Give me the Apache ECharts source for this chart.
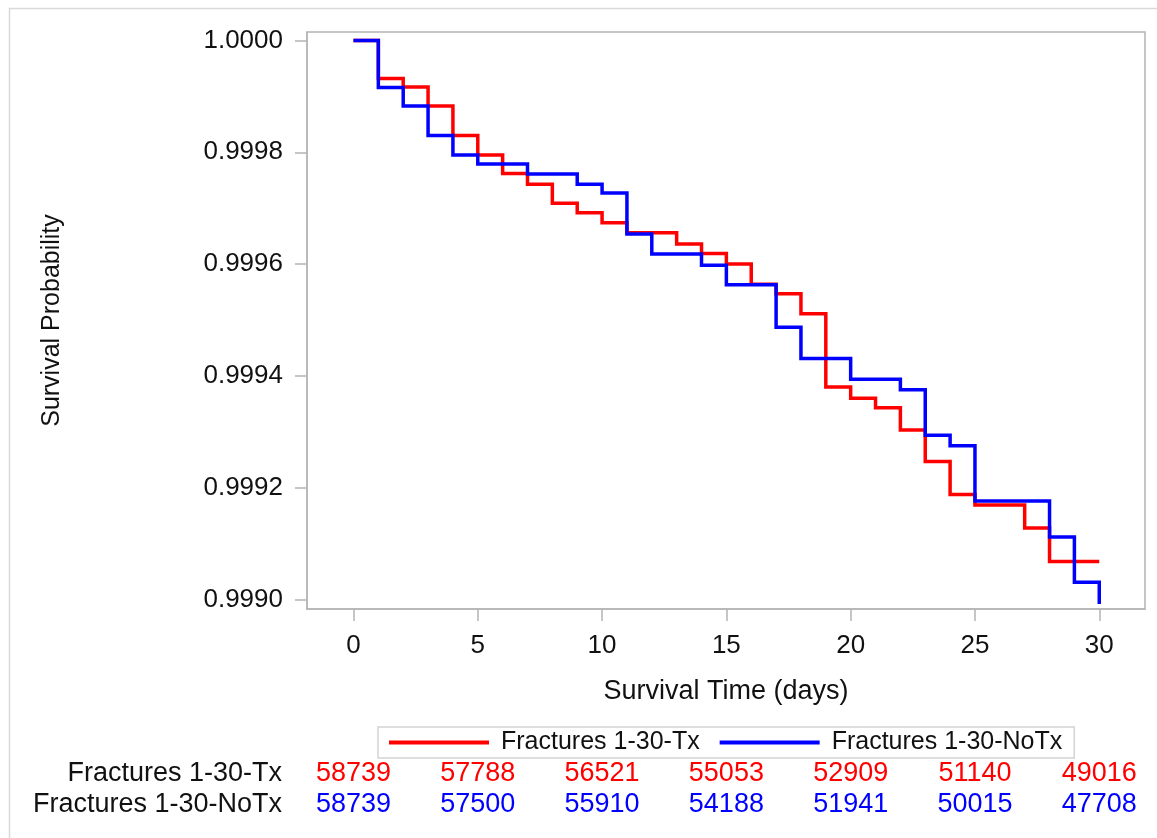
<!DOCTYPE html>
<html>
<head>
<meta charset="utf-8">
<script src="https://cdn.jsdelivr.net/npm/echarts@6/dist/echarts.min.js"></script>
<style>
  html, body { margin: 0; padding: 0; background: #fff; }
  #chart { width: 1157px; height: 838px; }
</style>
</head>
<body>
<div id="chart"></div>
<script>
// ---- data ----
const days = [0,1,2,3,4,5,6,7,8,9,10,11,12,13,14,15,16,17,18,19,20,21,22,23,24,25,26,27,28,29,30];
const txSurv = [1.0, 0.999932, 0.999917, 0.999883, 0.999830, 0.999795, 0.999762, 0.999743, 0.999709, 0.999692,
  0.999674, 0.999656, 0.999656, 0.999636, 0.999619, 0.999600, 0.999564, 0.999547, 0.999511, 0.999380,
  0.999360, 0.999343, 0.999303, 0.999247, 0.999188, 0.999169, 0.999169, 0.999128, 0.999068, 0.999068, 0.999068];
const noTxSurv = [1.0, 0.999916, 0.999883, 0.999830, 0.999795, 0.999779, 0.999779, 0.999761, 0.999761, 0.999743,
  0.999727, 0.999654, 0.999618, 0.999618, 0.999598, 0.999563, 0.999563, 0.999487, 0.999431, 0.999431,
  0.999394, 0.999394, 0.999375, 0.999294, 0.999275, 0.999176, 0.999176, 0.999176, 0.999112, 0.999031, 0.998992];
const xTicks = [0, 5, 10, 15, 20, 25, 30];
const yTicks = [0.9990, 0.9992, 0.9994, 0.9996, 0.9998, 1.0000];
const atRiskDays = [0, 5, 10, 15, 20, 25, 30];
const atRiskTx = [58739, 57788, 56521, 55053, 52909, 51140, 49016];
const atRiskNoTx = [58739, 57500, 55910, 54188, 51941, 50015, 47708];
const seriesNames = ['Fractures 1-30-Tx', 'Fractures 1-30-NoTx'];
const rowNames = ['Fractures 1-30-Tx', 'Fractures 1-30-NoTx'];

const FONT = "'Liberation Sans', Arial, sans-serif";
const RED = '#ff0000', BLUE = '#0000ff', FRAME = '#b4b4b4';

const chart = echarts.init(document.getElementById('chart'), null, { renderer: 'canvas' });
const option = {
  animation: false,
  backgroundColor: '#ffffff',
  textStyle: { fontFamily: FONT },
  graphic: [{
    type: 'rect', left: 7, top: 6, silent: true,
    shape: { width: 1300, height: 1000 },
    style: { fill: 'none', stroke: '#d9d9d9', lineWidth: 1.5 }
  }],
  legend: {
    data: seriesNames,
    left: 378, top: 727,
    icon: 'rect', itemWidth: 100, itemHeight: 4, itemGap: 20,
    padding: [3, 12, 3, 11],
    borderColor: '#d4d4d4', borderWidth: 1.5,
    textStyle: { fontSize: 25, color: '#111', fontFamily: FONT, padding: [0, 0, 0, 7] }
  },
  grid: [
    { left: 307, right: 12, top: 32, bottom: 229, show: true, borderColor: FRAME, borderWidth: 1.5, backgroundColor: '#fff' },
    { left: 307, right: 12, top: 758, height: 62 }
  ],
  xAxis: [{
    gridIndex: 0, type: 'value', min: -1.87, max: 31.84,
    name: 'Survival Time (days)', nameLocation: 'middle', nameGap: 69,
    nameTextStyle: { fontSize: 27, color: '#111', fontFamily: FONT },
    axisLine: { show: true, onZero: false, lineStyle: { color: FRAME, width: 1.5 } },
    axisTick: { show: true, length: 12, customValues: xTicks, lineStyle: { color: FRAME, width: 1.5 } },
    axisLabel: { customValues: xTicks, fontSize: 26, color: '#111', margin: 24, fontFamily: FONT },
    splitLine: { show: false }
  }, {
    gridIndex: 1, type: 'value', min: -1.87, max: 31.84, show: false
  }],
  yAxis: [{
    gridIndex: 0, type: 'value', min: 0.998983, max: 1.0000152,
    name: 'Survival Probability', nameLocation: 'middle', nameGap: 242, nameRotate: 90,
    nameTextStyle: { fontSize: 25, color: '#111', fontFamily: FONT },
    axisLine: { show: true, onZero: false, lineStyle: { color: FRAME, width: 1.5 } },
    axisTick: { show: true, length: 12, customValues: yTicks, lineStyle: { color: FRAME, width: 1.5 } },
    axisLabel: { customValues: yTicks, fontSize: 26, color: '#111', margin: 24, fontFamily: FONT,
      formatter: v => Number(v).toFixed(4) },
    splitLine: { show: false }
  }, {
    gridIndex: 1, type: 'category', data: rowNames, inverse: true,
    axisLine: { show: false }, axisTick: { show: false }, splitLine: { show: false },
    axisLabel: { interval: 0, hideOverlap: false, fontSize: 27, color: '#111', margin: 25, fontFamily: FONT }
  }],
  series: [{
    name: seriesNames[0], type: 'line', step: 'end', xAxisIndex: 0, yAxisIndex: 0,
    data: days.map((d, i) => [d, txSurv[i]]),
    showSymbol: false, symbol: 'none', color: RED,
    lineStyle: { color: RED, width: 3.5, join: 'miter', cap: 'butt' }
  }, {
    name: seriesNames[1], type: 'line', step: 'end', xAxisIndex: 0, yAxisIndex: 0,
    data: days.map((d, i) => [d, noTxSurv[i]]),
    showSymbol: false, symbol: 'none', color: BLUE,
    lineStyle: { color: BLUE, width: 3.5, join: 'miter', cap: 'butt' }
  }, {
    name: 'atrisk-tx', type: 'scatter', xAxisIndex: 1, yAxisIndex: 1,
    data: atRiskDays.map((d, i) => [d, rowNames[0], atRiskTx[i]]),
    symbolSize: 1, itemStyle: { color: '#ffffff', opacity: 0 }, silent: true,
    label: { show: true, position: 'inside', formatter: p => String(p.value[2]), fontSize: 27,
      color: RED, fontFamily: FONT, textBorderWidth: 0, opacity: 1 }
  }, {
    name: 'atrisk-notx', type: 'scatter', xAxisIndex: 1, yAxisIndex: 1,
    data: atRiskDays.map((d, i) => [d, rowNames[1], atRiskNoTx[i]]),
    symbolSize: 1, itemStyle: { color: '#ffffff', opacity: 0 }, silent: true,
    label: { show: true, position: 'inside', formatter: p => String(p.value[2]), fontSize: 27,
      color: BLUE, fontFamily: FONT, textBorderWidth: 0, opacity: 1 }
  }]
};
chart.setOption(option);
</script>
</body>
</html>
